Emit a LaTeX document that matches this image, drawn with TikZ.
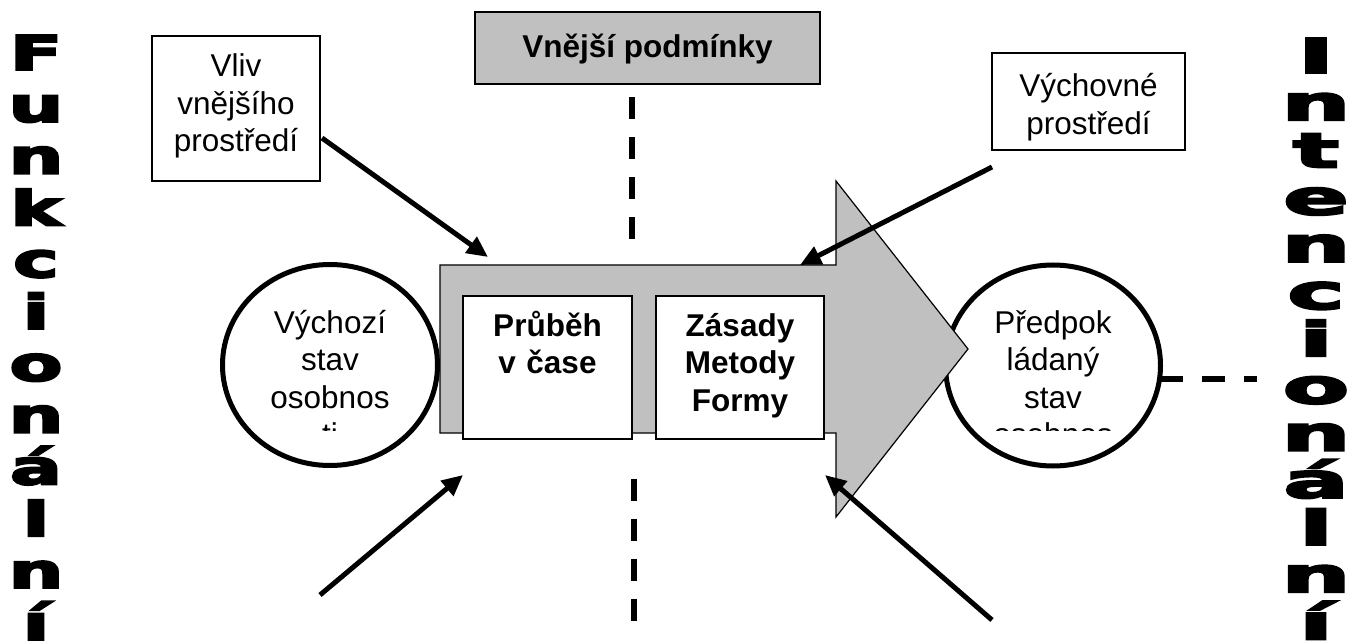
\documentclass[tikz,border=0pt]{standalone}
\usepackage{fontspec}
\setmainfont{Liberation Sans}
\newfontfamily\heavyfont{DejaVu Sans Bold}[FakeBold=4]
\usetikzlibrary{arrows.meta,shapes.geometric}
\definecolor{shade}{HTML}{C0C0C0}
\newcommand\stretchL[1]{\scalebox{1.6}[1]{#1}}
\newcommand\stretchR[1]{\scalebox{2.0}[1]{#1}}
\tikzset{
  txt/.style={font=\fontsize{31.5}{37.5}\selectfont, align=center, inner sep=0pt},
  btxt/.style={font=\fontsize{31.5}{37.5}\selectfont\bfseries, align=center, inner sep=0pt},
  thinbox/.style={draw=black, line width=1.5pt, fill=white, inner sep=0pt},
  graybox/.style={draw=black, line width=2pt, fill=shade, inner sep=0pt},
  ring/.style={ellipse, draw=black, line width=5pt, fill=white, inner sep=0pt},
  bigarrow/.style={draw=black, line width=1.2pt, fill=shade},
  pointer/.style={line width=5pt, -{Triangle[length=21pt,width=19pt]}},
  dashline/.style={line width=5.5pt, dash pattern=on 22pt off 18pt},
  vlet/.style={font=\heavyfont\fontsize{48}{48}\selectfont, inner sep=0pt, anchor=base}
}
\begin{document}
\begin{tikzpicture}[x=1pt,y=-1pt]
\useasboundingbox (0,0) rectangle (1349,644);
% circles
\node[ring, minimum width=215pt, minimum height=201pt] (start) at (330,365) {};
\node[ring, minimum width=215pt, minimum height=201pt] (goal) at (1053,365.5) {};
% big arrow
\draw[bigarrow] (440,265) -- (836,265) -- (836,181) -- (968,349) -- (836,517) -- (836,433) -- (440,433) -- cycle;
% boxes on arrow
\node[thinbox, minimum width=169pt, minimum height=143pt] (prubeh) at (547.5,367.5) {};
\node[thinbox, minimum width=168pt, minimum height=143pt] (zasady) at (740,367.5) {};
\node[btxt, text width=165pt, anchor=base] (prubehT) at (547.5,336) {Průběh\\v čase};
\node[btxt, text width=165pt, anchor=base] (zasadyT) at (740,336) {Zásady\\Metody\\Formy};
% circle texts (clipped)
\begin{scope}
\clip (200,250) rectangle (1200,430);
\node[txt, text width=170pt, anchor=base] (startT) at (330,333) {Výchozí\\stav\\osobnos\\ti};
\node[txt, text width=170pt, anchor=base] (goalT) at (1053,333) {Předpok\\ládaný\\stav\\osobnos\\ti};
\end{scope}
% top boxes
\node[thinbox, minimum width=168pt, minimum height=145pt] (vliv) at (236,108.5) {};
\node[txt, text width=165pt, anchor=base] (vlivT) at (236,77) {Vliv\\vnějšího\\prostředí};
\node[thinbox, minimum width=193pt, minimum height=97pt] (vych) at (1088.5,101.5) {};
\node[txt, text width=190pt, anchor=base] (vychT) at (1088.5,97) {Výchovné\\prostředí};
\node[graybox, minimum width=345pt, minimum height=72pt] (podm) at (647.5,48) {};
\node[btxt, anchor=base] (podmT) at (647.5,58) {Vnější podmínky};
% dashed lines
\coordinate (d1a) at (632,97); \coordinate (d1b) at (632,241);
\coordinate (d2a) at (634,479); \coordinate (d2b) at (634,623);
\coordinate (d3a) at (1160,379); \coordinate (d3b) at (1257,379);
\draw[dashline] (d1a) -- (d1b);
\draw[dashline] (d2a) -- (d2b);
\draw[line width=5.5pt, dash pattern=on 23pt off 19pt] (d3a) -- (d3b);
% pointers
\coordinate (p1s) at (322,138); \coordinate (p1e) at (488,257);
\coordinate (p2s) at (992,167); \coordinate (p2e) at (800,265);
\coordinate (p3s) at (320,595); \coordinate (p3e) at (463,475);
\coordinate (p4s) at (992,620); \coordinate (p4e) at (825,475);
\draw[pointer] (p1s) -- (p1e);
\draw[pointer] (p2s) -- (p2e);
\draw[pointer] (p3s) -- (p3e);
\draw[pointer] (p4s) -- (p4e);
% vertical words
\foreach \c [count=\i] in {F,u,n,k,c,i,o,n,á,l,n,í} {
  \node[vlet] (L\i) at (36,{70+(\i-1)*51.8}) {\stretchL{\c}};
}
\foreach \c [count=\i] in {I,n,t,e,n,c,i,o,n,á,l,n,í} {
  \node[vlet] (R\i) at (1316,{73+(\i-1)*47.2}) {\stretchR{\c}};
}
\end{tikzpicture}
\end{document}
